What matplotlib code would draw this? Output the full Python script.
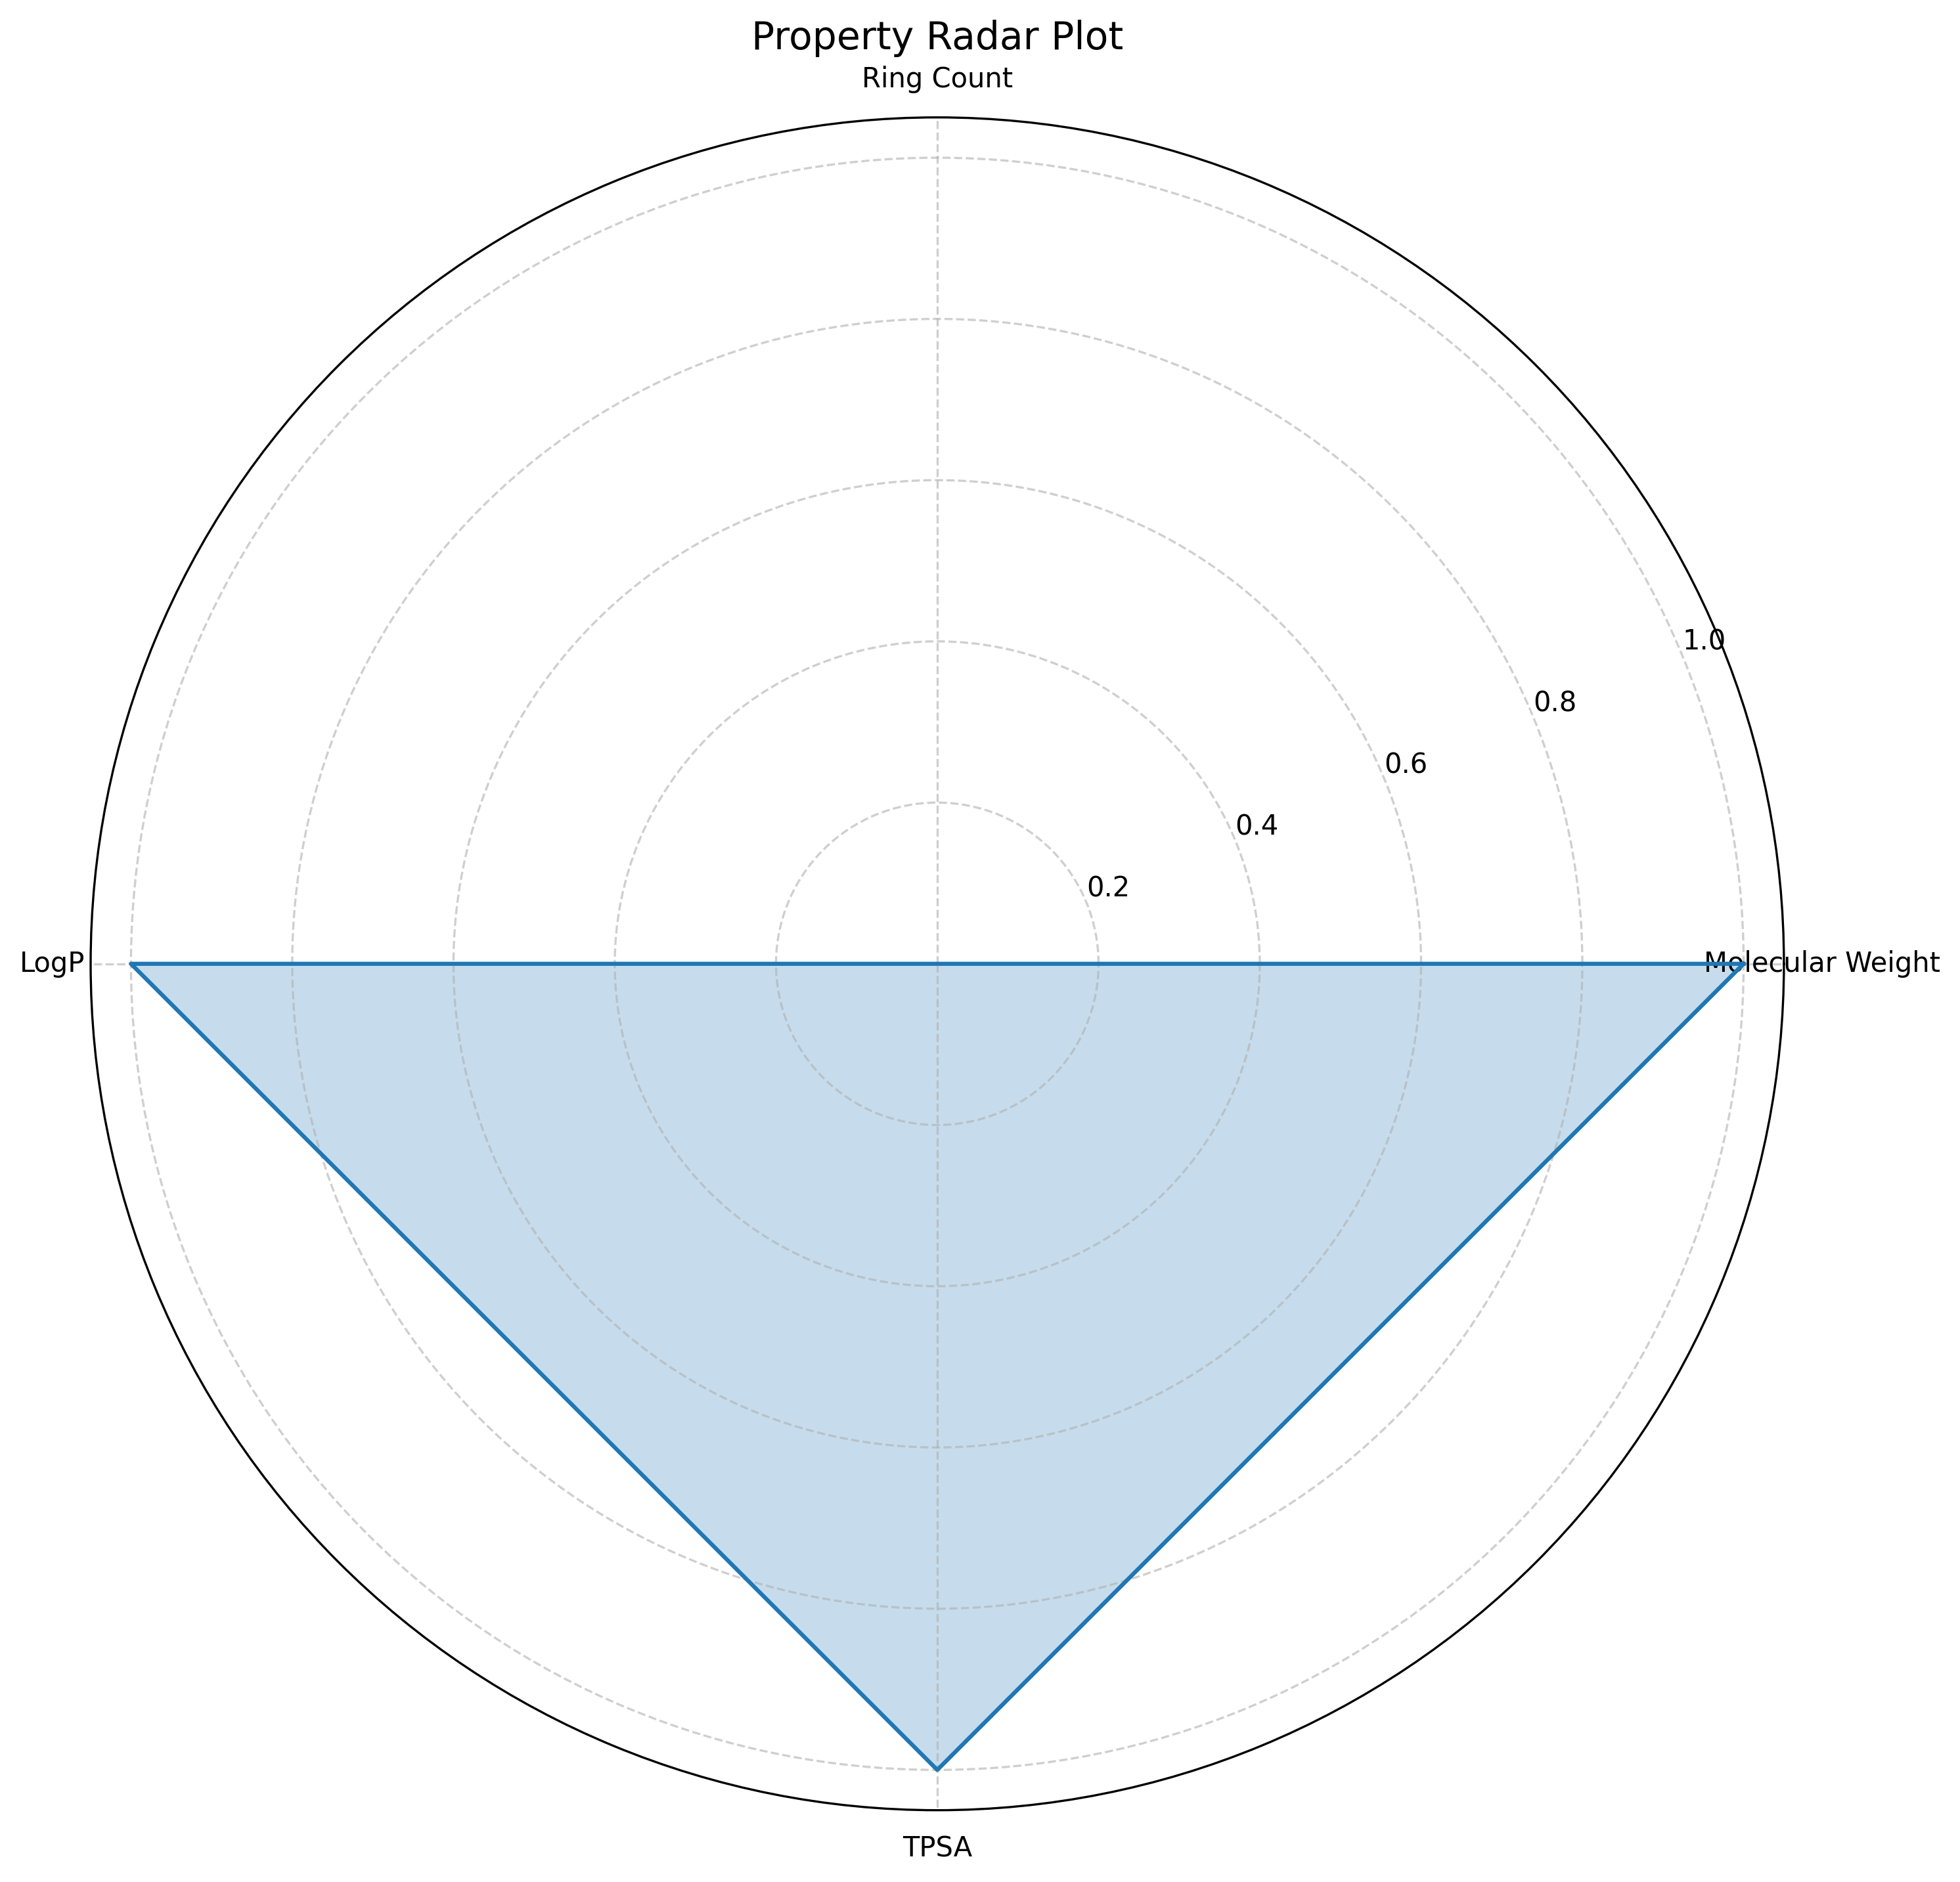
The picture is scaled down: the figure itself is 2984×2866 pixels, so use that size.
import numpy as np
import matplotlib
matplotlib.use('Agg')
import matplotlib.pyplot as plt

# Normalised property values
properties = ['Molecular Weight', 'Ring Count', 'LogP', 'TPSA']
values = [1.0, 0.0, 1.0, 1.0]

angles = np.linspace(0, 2 * np.pi, len(properties), endpoint=False).tolist()
vals = values + values[:1]
angles_closed = angles + angles[:1]

fig, ax = plt.subplots(figsize=(10, 10), subplot_kw=dict(polar=True))
ax.plot(angles_closed, vals, color='tab:blue', linewidth=1.5)
ax.fill(angles_closed, vals, color='tab:blue', alpha=0.25)

ax.set_xticks(angles)
ax.set_xticklabels(properties)
ax.grid(True, linestyle='--', alpha=0.6)
ax.set_title('Property Radar Plot', fontsize=14)

plt.tight_layout()
plt.savefig('out.png', dpi=300, bbox_inches='tight')
